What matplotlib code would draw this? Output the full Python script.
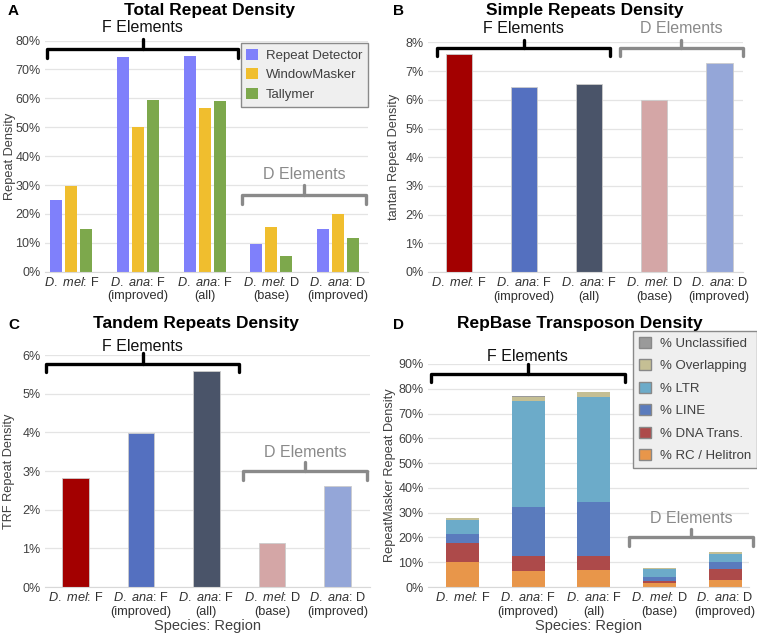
import matplotlib
matplotlib.use("Agg")
import matplotlib.pyplot as plt
import numpy as np
from matplotlib.patches import Patch

################## Dados ##################

regioes = [
    r"$\it{D.\ mel}$: F",
    "$\\it{D.\\ ana}$: F\n(improved)",
    "$\\it{D.\\ ana}$: F\n(all)",
    "$\\it{D.\\ mel}$: D\n(base)",
    "$\\it{D.\\ ana}$: D\n(improved)",
]

# A - Total Repeat Density
repeat_detector = [24.8, 74.2, 74.8, 9.5, 14.7]
window_masker = [29.8, 50.0, 56.5, 15.3, 20.0]
tallymer = [14.6, 59.4, 59.2, 5.3, 11.7]

# B - Simple Repeats Density (tantan)
tantan = [7.6, 6.45, 6.55, 6.0, 7.27]

# C - Tandem Repeats Density (TRF)
trf = [2.83, 3.98, 5.6, 1.13, 2.61]

# D - RepBase Transposon Density
rc_helitron = [10.3, 6.6, 7.0, 1.7, 3.0]
dna_trans = [7.5, 5.8, 5.6, 0.6, 4.1]
line_te = [3.8, 19.7, 21.9, 1.9, 3.0]
ltr = [5.6, 43.0, 42.1, 3.2, 3.1]
overlapping = [0.6, 1.7, 1.9, 0.2, 0.8]
unclassified = [0.1, 0.2, 0.2, 0.1, 0.3]

cores_regiao = ["#a30000", "#5470c0", "#4a5469", "#d4a6a6", "#94a6d8"]

################## Estilo ##################

plt.rcParams["font.family"] = ["Liberation Sans", "DejaVu Sans"]
plt.rcParams["mathtext.fontset"] = "custom"
plt.rcParams["mathtext.rm"] = "Liberation Sans"
plt.rcParams["mathtext.it"] = "Liberation Sans:italic"
cinza_texto = "#404040"


def estilo_eixo(ax, ymax, passo, ylabel, xlim, xlab):
    for s in ax.spines.values():
        s.set_visible(False)
    ax.spines["bottom"].set_visible(True)
    ax.spines["bottom"].set_color("#d8d8d8")
    ax.set_ylim(0, ymax)
    ax.set_xlim(*xlim)
    ticks = np.arange(0, ymax + passo / 2, passo)
    ax.set_yticks(ticks)
    ax.set_yticklabels([f"{t:g}%" for t in ticks], fontsize=9, color=cinza_texto)
    ax.yaxis.grid(True, color="#e4e4e4", linewidth=0.9)
    ax.set_axisbelow(True)
    ax.tick_params(length=0, pad=3)
    ax.set_xticks(range(len(regioes)))
    ax.set_xticklabels(regioes, fontsize=9.2, color="#303030", linespacing=1.15)
    ax.set_ylabel(ylabel, fontsize=9.2, color=cinza_texto)
    ax.yaxis.set_label_coords(xlab, 0.5)


def chave(ax, x0, x1, y_linha, y_ponta, y_topo, y_texto, texto, cor):
    xm = (x0 + x1) / 2
    ax.plot([x0, x0, x1, x1], [y_ponta, y_linha, y_linha, y_ponta],
            color=cor, lw=2.4, clip_on=False, solid_joinstyle="round",
            solid_capstyle="round")
    ax.plot([xm, xm], [y_linha, y_topo], color=cor, lw=2.4, clip_on=False,
            solid_capstyle="round")
    ax.text(xm, y_texto, texto, ha="center", va="center", fontsize=11.5,
            color="#111111" if cor == "black" else "#8a8a8a", clip_on=False)


def legenda(ax, handles, ancora, espaco):
    leg = ax.legend(handles=handles, loc="upper right", bbox_to_anchor=ancora,
                    borderaxespad=0, fontsize=9.5, handlelength=0.9,
                    handleheight=0.9, handletextpad=0.3 + espaco / 2,
                    labelspacing=espaco, borderpad=0.45, fancybox=False,
                    framealpha=1)
    leg.get_frame().set_facecolor("#efefef")
    leg.get_frame().set_edgecolor("#8a8a8a")
    for t in leg.get_texts():
        t.set_color(cinza_texto)
    return leg


fig = plt.figure(figsize=(7.57, 6.34), dpi=100)

ax_a = fig.add_axes([0.059, 0.5715, 0.427, 0.3645])
ax_b = fig.add_axes([0.565, 0.571, 0.416, 0.362])
ax_c = fig.add_axes([0.059, 0.074, 0.430, 0.366])
ax_d = fig.add_axes([0.565, 0.074, 0.425, 0.352])

x = np.arange(len(regioes))

################## A ##################

larg = 0.18
desl = 0.225
ha = ax_a.bar(x - desl, repeat_detector, larg, color="#7f80fb", label="Repeat Detector")
hb = ax_a.bar(x, window_masker, larg, color="#f0be2e", label="WindowMasker")
hc = ax_a.bar(x + desl, tallymer, larg, color="#7da84c", label="Tallymer")
estilo_eixo(ax_a, 80, 10, "Repeat Density", (-0.4, 4.45), -0.09)
legenda(ax_a, [ha, hb, hc], (1.0, 0.99), 0.5)
chave(ax_a, -0.36, 2.5, 77.0, 74.0, 80.5, 84.5, "F Elements", "black")
chave(ax_a, 2.56, 4.42, 26.6, 23.4, 30.0, 33.8, "D Elements", "#8a8a8a")

################## B ##################

ax_b.bar(x, tantan, 0.41, color=cores_regiao, edgecolor="#cccccc", linewidth=0.6)
estilo_eixo(ax_b, 8, 1, "tantan Repeat Density", (-0.48, 4.36), -0.089)
chave(ax_b, -0.33, 2.32, 7.8, 7.53, 8.09, 8.5, "F Elements", "black")
chave(ax_b, 2.47, 4.37, 7.8, 7.53, 8.09, 8.5, "D Elements", "#8a8a8a")

################## C ##################

ax_c.bar(x, trf, 0.4, color=cores_regiao, edgecolor="#cccccc", linewidth=0.6)
estilo_eixo(ax_c, 6, 1, "TRF Repeat Density", (-0.47, 4.5), -0.09)
ax_c.set_xlabel("Species: Region", fontsize=10.5, color=cinza_texto, labelpad=1)
chave(ax_c, -0.45, 2.5, 5.78, 5.57, 6.04, 6.23, "F Elements", "black")
chave(ax_c, 2.56, 4.45, 3.0, 2.76, 3.24, 3.47, "D Elements", "#8a8a8a")

################## D ##################

camadas = [
    (rc_helitron, "#e8964a", "% RC / Helitron"),
    (dna_trans, "#ad4a4a", "% DNA Trans."),
    (line_te, "#5a7bbd", "% LINE"),
    (ltr, "#6cabc9", "% LTR"),
    (overlapping, "#c5bf94", "% Overlapping"),
    (unclassified, "#9a9a9a", "% Unclassified"),
]
base = np.zeros(len(regioes))
for valores, cor, nome in camadas:
    ax_d.bar(x, valores, 0.5, bottom=base, color=cor)
    base = base + np.array(valores)
estilo_eixo(ax_d, 90, 10, "RepeatMasker Repeat Density", (-0.53, 4.37), -0.1)
ax_d.set_xlabel("Species: Region", fontsize=10.5, color=cinza_texto, labelpad=1)
handles = [Patch(facecolor=c, edgecolor="#888888", label=n) for _, c, n in camadas[::-1]]
legenda(ax_d, handles, (1.023, 1.148), 0.72)
chave(ax_d, -0.48, 2.47, 86.0, 82.7, 90.0, 93.0, "F Elements", "black")
chave(ax_d, 2.54, 4.42, 20.2, 16.4, 23.5, 27.5, "D Elements", "#8a8a8a")

################## Titulos ##################

titulos = [
    ("A", 8, 11, "Total Repeat Density", 210, 10),
    ("B", 393, 11, "Simple Repeats Density", 585, 10),
    ("C", 8, 325, "Tandem Repeats Density", 196, 323),
    ("D", 393, 325, "RepBase Transposon Density", 580, 323),
]
for letra, lx, ly, titulo, tx, ty in titulos:
    fig.text(lx / 757, 1 - ly / 634, letra, fontsize=11, fontweight="bold",
             ha="left", va="center")
    fig.text(tx / 757, 1 - ty / 634, titulo, fontsize=12.5, fontweight="bold",
             ha="center", va="center")

fig.savefig("out.png", dpi=100)
plt.close(fig)
